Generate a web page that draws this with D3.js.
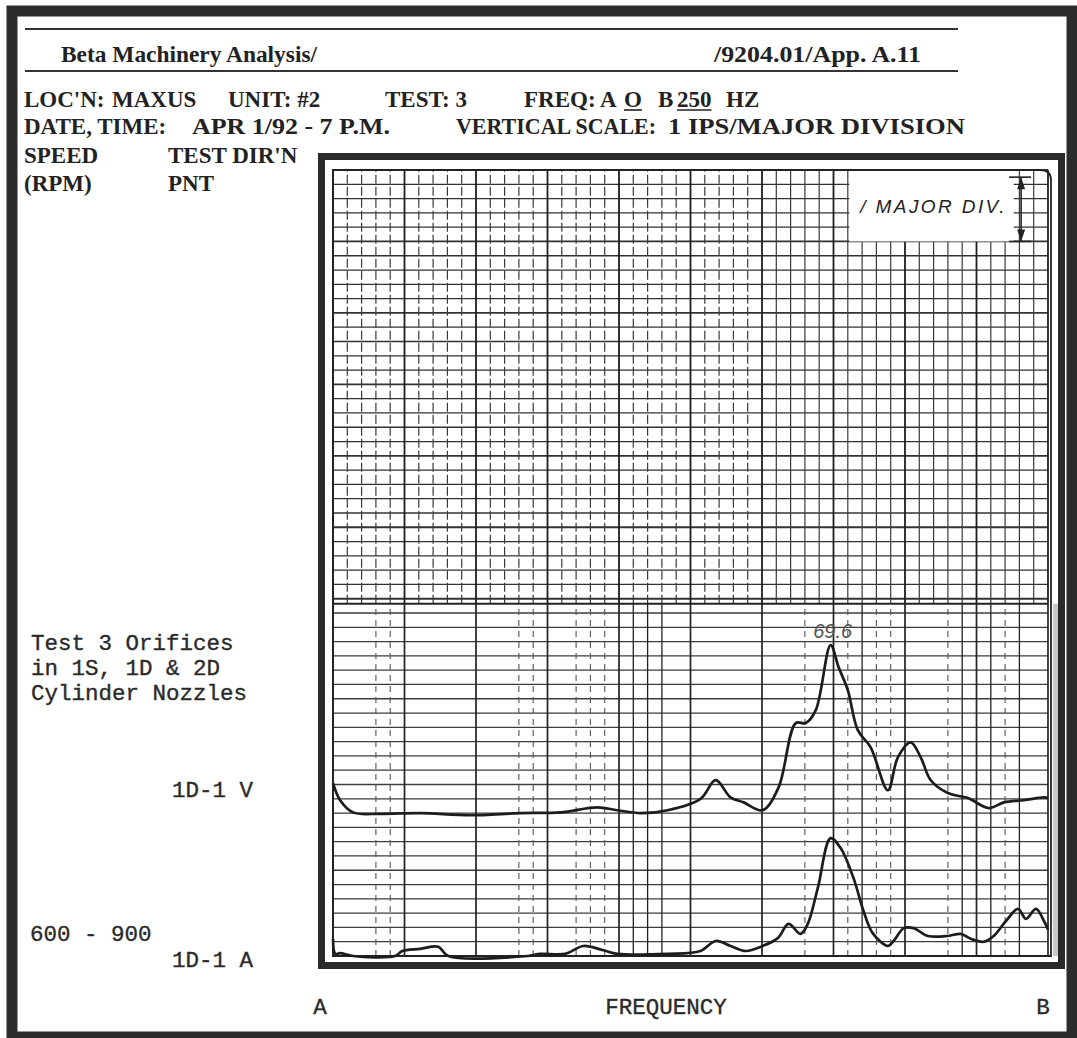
<!DOCTYPE html>
<html><head><meta charset="utf-8">
<script src="https://cdn.jsdelivr.net/npm/d3@7"></script>
<style>body{margin:0;background:#fff}svg{display:block}</style>
</head><body>
<script>
// ---------------- data ----------------
const headerLeft = "Beta Machinery Analysis/";
const headerRight = "/9204.01/App. A.11";
// [text, x, underline, stretched width]
const infoLine1 = [["LOC'N:",24,false],["MAXUS",112,false],["UNIT: #2",228,false],["TEST: 3",385,false],["FREQ: A",524,false],["O",624,true],["B",658,false],["250",677,true],["HZ",726,false]];
const infoLine2 = [["DATE, TIME:",24,false],["APR 1/92 - 7 P.M.",192,false,198],["VERTICAL SCALE:",456,false,200],["1 IPS/MAJOR DIVISION",668,false,297]];
const colHead1 = ["SPEED","TEST DIR'N"];
const colHead2 = ["(RPM)","PNT"];
const noteLines = ["Test 3 Orifices","in 1S, 1D & 2D","Cylinder Nozzles"];
const speedRange = "600 - 900";
const traceLabels = ["1D-1 V","1D-1 A"];
const traceOffsets = [2, 0];          // baseline of each trace, IPS
const peakLabel = "69.6";
const peakFreq = 174;
const scaleNote = "/ MAJOR DIV.";
const xEndLabels = ["A","B"];
const xTitle = "FREQUENCY";
const freqDomain = [0, 250];           // Hz
const ampDomain = [0, 11];             // IPS (major divisions)

// 1D-1 V trace: frequency (Hz) and amplitude (IPS above its baseline)
const freqV = [0,2.5,7,16.5,30.5,48,65.5,79.5,92.4,99.4,107.5,117,128.5,133.8,139,143.6,150.2,155.8,161.8,165.3,168.8,174,176.8,180,183.5,188,194,197.5,202,205.5,209,215,222,229.3,234.6,241.6,248.6,250];
const ampV  = [0.42,0.18,0.01,-0.01,0,-0.03,0,0.01,0.08,0.04,0,0.04,0.2,0.46,0.22,0.15,0.04,0.36,1.26,1.26,1.44,2.35,2.04,1.72,1.16,0.92,0.32,0.78,0.99,0.78,0.46,0.28,0.21,0.07,0.15,0.18,0.22,0.21];
// 1D-1 A trace
const freqA = [0,0.8,2.5,7,21.7,24.2,30.5,36.8,40.3,68,72.5,81.2,87.5,94.5,99.4,117,128.5,133.8,139,144.3,150.2,155.5,159.3,163.5,166,169.5,174,177.5,182,185.5,188.7,194,196,199.6,203,208,215,219.5,223,227.6,231,235.3,239.5,242.3,245.8,248.6,250];
const ampA  = [0.24,0.03,0.04,0,0,0.07,0.1,0.13,0,0,0.03,0.03,0.14,0.08,0.03,0.03,0.07,0.21,0.14,0.07,0.14,0.25,0.45,0.31,0.45,0.95,1.65,1.51,1.09,0.63,0.32,0.14,0.21,0.39,0.39,0.28,0.28,0.31,0.24,0.2,0.28,0.49,0.66,0.52,0.66,0.49,0.37];

// grid description (minor division indices, 50 across)
const lowerSolid = [0,5,10,15,20,21,22,23,25,30,35,37,40,44,45,46,48,50];
const lowerDashed = [3,4,13,14,17,18,19,33,36,38,39,43,47];
const panelSplit = 4.93; // IPS where the upper grid sheet begins

// ---------------- drawing ----------------
const W = 1077, H = 1038;
const svg = d3.select("body").append("svg").attr("width", W).attr("height", H);
svg.append("rect").attr("width", W).attr("height", H).attr("fill", "#fff");

const x = d3.scaleLinear().domain(freqDomain).range([333, 1048]);
const y = d3.scaleLinear().domain(ampDomain).range([956, 170]);
const minorX = d3.range(0, 51).map(i => freqDomain[0] + i * (freqDomain[1] - freqDomain[0]) / 50);
const serif = "'Liberation Serif','Times New Roman',serif";
const mono = "'Liberation Mono','Courier New',monospace";
const ink = "#222";

// page frame
svg.append("rect").attr("x", 12).attr("y", 11).attr("width", 1060).attr("height", 1026)
  .attr("fill", "none").attr("stroke", "#2b2b2b").attr("stroke-width", 11);

// header rules and text
const hdr = svg.append("g").attr("fill", ink).attr("font-family", serif).attr("font-weight", "bold");
[29, 71].forEach(yy => svg.append("line").attr("x1", 25).attr("x2", 958).attr("y1", yy).attr("y2", yy)
  .attr("stroke", "#333").attr("stroke-width", 1.8));
hdr.append("text").attr("x", 61).attr("y", 62).attr("font-size", 23).attr("textLength", 256)
  .attr("lengthAdjust", "spacingAndGlyphs").text(headerLeft);
hdr.append("text").attr("x", 714).attr("y", 62).attr("font-size", 23).attr("textLength", 207)
  .attr("lengthAdjust", "spacingAndGlyphs").text(headerRight);

function infoRow(items, yy) {
  items.forEach(([t, xx, ul, len]) => {
    const el = hdr.append("text").attr("x", xx).attr("y", yy).attr("font-size", 23).text(t);
    if (len) el.attr("textLength", len).attr("lengthAdjust", "spacingAndGlyphs");
    if (ul) {
      const w = el.node().getComputedTextLength();
      hdr.append("line").attr("x1", xx).attr("x2", xx + w).attr("y1", yy + 3).attr("y2", yy + 3)
        .attr("stroke", ink).attr("stroke-width", 1.6);
    }
  });
}
infoRow(infoLine1, 107);
infoRow(infoLine2, 134);
infoRow([[colHead1[0], 24], [colHead1[1], 168]], 163);
infoRow([[colHead2[0], 24], [colHead2[1], 168]], 191);

// ---------------- chart grid ----------------
const grid = svg.append("g");
const ySplit = y(panelSplit);

// lower sheet horizontals
d3.range(0, 25).map(i => i * 0.2).forEach(v => {
  grid.append("line").attr("x1", x(0)).attr("x2", x(250)).attr("y1", y(v)).attr("y2", y(v))
    .attr("stroke", "#3d3d3d").attr("stroke-width", 1.3);
});
// lower sheet verticals
lowerSolid.forEach(i => grid.append("line").attr("x1", x(minorX[i])).attr("x2", x(minorX[i]))
  .attr("y1", y(0)).attr("y2", ySplit).attr("stroke", "#222").attr("stroke-width", i % 5 === 0 ? 1.7 : 1.3));
lowerDashed.forEach(i => grid.append("line").attr("x1", x(minorX[i])).attr("x2", x(minorX[i]))
  .attr("y1", y(0)).attr("y2", ySplit).attr("stroke", "#555").attr("stroke-width", 1.1)
  .attr("stroke-dasharray", "6,5"));

// upper sheet horizontals
d3.range(25, 56).map(i => i * 0.2).forEach(v => {
  const major = Math.abs(v - Math.round(v)) < 1e-6;
  grid.append("line").attr("x1", x(0)).attr("x2", x(250)).attr("y1", y(v)).attr("y2", y(v))
    .attr("stroke", "#333").attr("stroke-width", major ? 1.8 : 1.3);
});
// upper sheet verticals
minorX.forEach((f, i) => {
  const major = i % 5 === 0;
  const ln = grid.append("line").attr("x1", x(f)).attr("x2", x(f)).attr("y1", ySplit).attr("y2", y(11))
    .attr("stroke", major ? "#1e1e1e" : "#3a3a3a").attr("stroke-width", major ? 1.8 : 1.2);
  if (!major && i < 30) ln.attr("stroke-dasharray", "9,3");
});
// sheet boundary
grid.append("line").attr("x1", x(0)).attr("x2", x(250)).attr("y1", ySplit).attr("y2", ySplit)
  .attr("stroke", "#222").attr("stroke-width", 1.8);

// scale note box (1 major division)
const bx0 = x(180.5), bx1 = x(238);
svg.append("rect").attr("x", bx0).attr("y", y(11) + 1).attr("width", bx1 - bx0).attr("height", y(10) - y(11) - 1)
  .attr("fill", "#fff");
const ax = x(240.6);
svg.append("line").attr("x1", ax).attr("x2", ax).attr("y1", y(10.9)).attr("y2", y(10)).attr("stroke", "#222").attr("stroke-width", 1.6);
[10.9, 10].forEach(v => svg.append("line").attr("x1", ax - 12).attr("x2", ax + 10).attr("y1", y(v)).attr("y2", y(v))
  .attr("stroke", "#222").attr("stroke-width", 1.6));
svg.append("path").attr("d", `M${ax},${y(10.9)} l-4,12 l8,0 Z M${ax},${y(10)} l-4,-12 l8,0 Z`).attr("fill", "#222");
svg.append("text").attr("x", bx0 + 11).attr("y", y(10.4)).attr("font-family", "'Liberation Sans',Arial,sans-serif")
  .attr("font-style", "italic").attr("font-size", 19).attr("letter-spacing", 2.4).attr("fill", "#222").text(scaleNote);

// inner plot border with rounded top-right corner
svg.append("path").attr("d", `M${x(0)},${y(0)} L${x(0)},${y(11)} L${x(250) - 8},${y(11)} Q${x(250) + 3},${y(11)} ${x(250) + 3},${y(11) + 10} L${x(250) + 3},${y(0)} Z`)
  .attr("fill", "none").attr("stroke", "#222").attr("stroke-width", 1.8);
// grey margin strip at right
svg.append("rect").attr("x", x(250) + 5).attr("y", ySplit).attr("width", 5).attr("height", y(0) - ySplit)
  .attr("fill", "#c9c9c9");

// ---------------- traces ----------------
const line = d3.line().curve(d3.curveCatmullRom.alpha(0.5));
const traces = [[freqV, ampV], [freqA, ampA]];
traces.forEach(([fs, as], k) => {
  const pts = fs.map((f, i) => [x(f), y(as[i] + traceOffsets[k])]);
  svg.append("path").attr("d", line(pts)).attr("fill", "none").attr("stroke", "#1c1c1c")
    .attr("stroke-width", 2.7).attr("stroke-linejoin", "round");
});
// handwritten peak value
const pkV = ampV[freqV.indexOf(peakFreq)] + traceOffsets[0];
svg.append("text").attr("x", x(peakFreq) + 2).attr("y", y(pkV) - 7).attr("text-anchor", "middle")
  .attr("font-family", "'Liberation Sans',Arial,sans-serif").attr("font-style", "italic").attr("font-size", 20)
  .attr("fill", "#555").text(peakLabel);

// outer chart frame
svg.append("rect").attr("x", 321.5).attr("y", 156.5).attr("width", 740).attr("height", 809)
  .attr("fill", "none").attr("stroke", "#2a2a2a").attr("stroke-width", 7);

// ---------------- typed labels ----------------
const tl = svg.append("g").attr("font-family", mono).attr("font-size", 22.5).attr("fill", "#2a2a2a")
  .attr("stroke", "#2a2a2a").attr("stroke-width", 0.35);
noteLines.forEach((t, i) => tl.append("text").attr("x", 31).attr("y", 650 + i * 25).text(t));
tl.append("text").attr("x", 172).attr("y", y(traceOffsets[0]) - 16).text(traceLabels[0]);
tl.append("text").attr("x", 30).attr("y", 941).text(speedRange);
tl.append("text").attr("x", 172).attr("y", 967).text(traceLabels[1]);
tl.append("text").attr("x", 320).attr("y", 1014).attr("text-anchor", "middle").text(xEndLabels[0]);
tl.append("text").attr("x", 666).attr("y", 1014).attr("text-anchor", "middle").text(xTitle);
tl.append("text").attr("x", 1043).attr("y", 1014).attr("text-anchor", "middle").text(xEndLabels[1]);
</script>
</body></html>
